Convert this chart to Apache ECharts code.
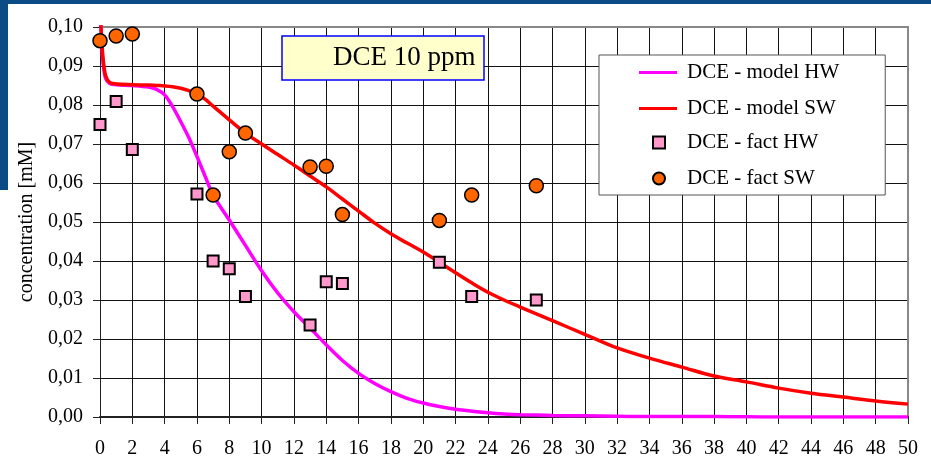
<!DOCTYPE html>
<html>
<head>
<meta charset="utf-8">
<script src="https://cdn.jsdelivr.net/npm/echarts@6/dist/echarts.min.js"></script>
<style>
html,body{margin:0;padding:0;background:#fff;}
#chart{width:931px;height:461px;}
.band{position:absolute;background:#0B4C86;z-index:5;}
</style>
</head>
<body>
<div id="chart"></div>
<div class="band" style="left:0;top:0;width:931px;height:4px;"></div>
<div class="band" style="left:0;top:0;width:8px;height:190px;"></div>
<script>
// tick labels
const xTicks = [0,2,4,6,8,10,12,14,16,18,20,22,24,26,28,30,32,34,36,38,40,42,44,46,48,50];

// model curves (time, concentration)
const modelX  = [0, 0.1, 0.2, 0.35, 0.6, 1, 2, 3, 3.5, 4, 4.5, 5, 5.5, 6, 6.5, 7, 8, 9, 10, 11, 12, 13, 14, 15, 16, 17, 18, 19, 20, 21, 22, 23, 24, 25, 26, 28, 30, 32, 34, 36, 38, 40, 42, 44, 46, 48, 50];
const modelHW = [0.106, 0.096, 0.0905, 0.0868, 0.0855, 0.0852, 0.0850, 0.0846, 0.0840, 0.0826, 0.0795, 0.0757, 0.0716, 0.0668, 0.0618, 0.0569, 0.0505, 0.0440, 0.0375, 0.0318, 0.0270, 0.0228, 0.0185, 0.0145, 0.0112, 0.0086, 0.0065, 0.0048, 0.0036, 0.0027, 0.0020, 0.0015, 0.0011, 0.0008, 0.0006, 0.0004, 0.0003, 0.0002, 0.0001, 0.0001, 0.0001, 0.00005, 0, 0, 0, 0, 0];
const modelSW = [0.106, 0.097, 0.0915, 0.0875, 0.0858, 0.0854, 0.0852, 0.0851, 0.0850, 0.0849, 0.0847, 0.0843, 0.0837, 0.0828, 0.0815, 0.0797, 0.0762, 0.0728, 0.0700, 0.0673, 0.0646, 0.0618, 0.0590, 0.0559, 0.0528, 0.0497, 0.0470, 0.0446, 0.0423, 0.0397, 0.0370, 0.0344, 0.0320, 0.0300, 0.0282, 0.0247, 0.0212, 0.0177, 0.0151, 0.0128, 0.0105, 0.0090, 0.0074, 0.0061, 0.0051, 0.0041, 0.0033];

// measured points
const factX  = [0,      1,      2,      6,      7,      8,      9,      13,     14,     15,     21,     23,     27];
const factHW = [0.0750, 0.0809, 0.0686, 0.0572, 0.0400, 0.0380, 0.0309, 0.0236, 0.0347, 0.0342, 0.0397, 0.0309, 0.0300];
const factSW = [0.0965, 0.0977, 0.0982, 0.0828, 0.0569, 0.0680, 0.0728, 0.0641, 0.0643, 0.0519, 0.0504, 0.0569, 0.0593];

const seriesNames = ['DCE - model HW', 'DCE - model SW', 'DCE - fact HW', 'DCE - fact SW'];
const titleText = 'DCE 10 ppm';
const yAxisName = 'concentration [mM]';

const zip = (xs, ys) => xs.map((x, i) => [x, ys[i]]);
const serif = '"Liberation Serif", "Times New Roman", serif';

const chart = echarts.init(document.getElementById('chart'), null, {renderer: 'canvas'});
const option = {
  animation: false,
  title: {
    text: titleText,
    left: 282, top: 36,
    padding: [8, 9, 8, 51],
    backgroundColor: '#FFFFCC',
    borderColor: '#0000FF',
    borderWidth: 1.5,
    textStyle: {fontFamily: serif, fontSize: 27, fontWeight: 'normal', color: '#000', lineHeight: 28}
  },
  legend: [
    {
      data: [{name: seriesNames[0], icon: 'rect'}, {name: seriesNames[1], icon: 'rect'}],
      orient: 'vertical',
      left: 599, top: 55,
      padding: [7, 46, 76, 40],
      backgroundColor: '#ffffff',
      borderColor: '#555',
      borderWidth: 1,
      itemWidth: 38, itemHeight: 3,
      itemGap: 15,
      z: 10,
      textStyle: {fontFamily: serif, fontSize: 21, color: '#000', lineHeight: 20, padding: [0, 0, 0, 5]}
    },
    {
      data: [seriesNames[2], seriesNames[3]],
      orient: 'vertical',
      left: 652, top: 132,
      padding: 0,
      itemWidth: 12, itemHeight: 12,
      itemGap: 15,
      z: 11,
      textStyle: {fontFamily: serif, fontSize: 21, color: '#000', lineHeight: 20, padding: [0, 0, 0, 17]}
    }
  ],
  grid: {left: 100, right: 23, top: 27, bottom: 44},
  xAxis: [
    {
      type: 'value',
      min: 0, max: 50, interval: 2,
      axisLine: {show: true, onZero: false, lineStyle: {color: '#222', width: 2}},
      axisTick: {show: true, length: 7, inside: false, lineStyle: {color: '#222', width: 1}},
      axisLabel: {
        margin: 22, fontFamily: serif, fontSize: 20, color: '#000',
        formatter: v => xTicks.includes(v) ? String(v) : ''
      },
      splitLine: {show: true, lineStyle: {color: '#111', width: 1, type: 'solid'}}
    },
    {
      type: 'value', position: 'top',
      min: 0, max: 50, interval: 2,
      axisLine: {show: true, onZero: false, lineStyle: {color: '#888', width: 2}},
      axisTick: {show: false}, axisLabel: {show: false}, splitLine: {show: false}
    }
  ],
  yAxis: [
    {
      type: 'value',
      min: 0, max: 0.1, interval: 0.01,
      name: yAxisName,
      nameLocation: 'middle',
      nameGap: 58,
      nameTextStyle: {fontFamily: serif, fontSize: 20, color: '#000'},
      axisLine: {show: true, onZero: false, lineStyle: {color: '#222', width: 1}},
      axisTick: {show: true, length: 7, inside: false, lineStyle: {color: '#222', width: 1}},
      axisLabel: {
        margin: 17, fontFamily: serif, fontSize: 20, color: '#000',
        formatter: v => v.toFixed(2).replace('.', ',')
      },
      splitLine: {show: true, lineStyle: {color: '#111', width: 1, type: 'solid'}}
    },
    {
      type: 'value', position: 'right',
      min: 0, max: 0.1, interval: 0.01,
      axisLine: {show: true, onZero: false, lineStyle: {color: '#888', width: 2}},
      axisTick: {show: false}, axisLabel: {show: false}, splitLine: {show: false}
    }
  ],
  series: [
    {
      name: seriesNames[0], type: 'line', data: zip(modelX, modelHW),
      symbol: 'none', smooth: 0.35, clip: true,
      lineStyle: {color: '#FF00FF', width: 3.5}, itemStyle: {color: '#FF00FF'}, z: 3
    },
    {
      name: seriesNames[1], type: 'line', data: zip(modelX, modelSW),
      symbol: 'none', smooth: 0.35, clip: true,
      lineStyle: {color: '#FF0000', width: 3.5}, itemStyle: {color: '#FF0000'}, z: 3
    },
    {
      name: seriesNames[2], type: 'scatter', data: zip(factX, factHW),
      symbol: 'rect', symbolSize: 11,
      itemStyle: {color: '#FF99CC', borderColor: '#000', borderWidth: 2, opacity: 1}, z: 4
    },
    {
      name: seriesNames[3], type: 'scatter', data: zip(factX, factSW),
      symbol: 'circle', symbolSize: 14,
      itemStyle: {color: '#FF6600', borderColor: '#000', borderWidth: 1.5, opacity: 1}, z: 4
    }
  ]
};
chart.setOption(option);
// force the display list to be built and painted right away
const zr = chart.getZr();
zr.storage.getDisplayList(true);
zr.refreshImmediately();
</script>
</body>
</html>
